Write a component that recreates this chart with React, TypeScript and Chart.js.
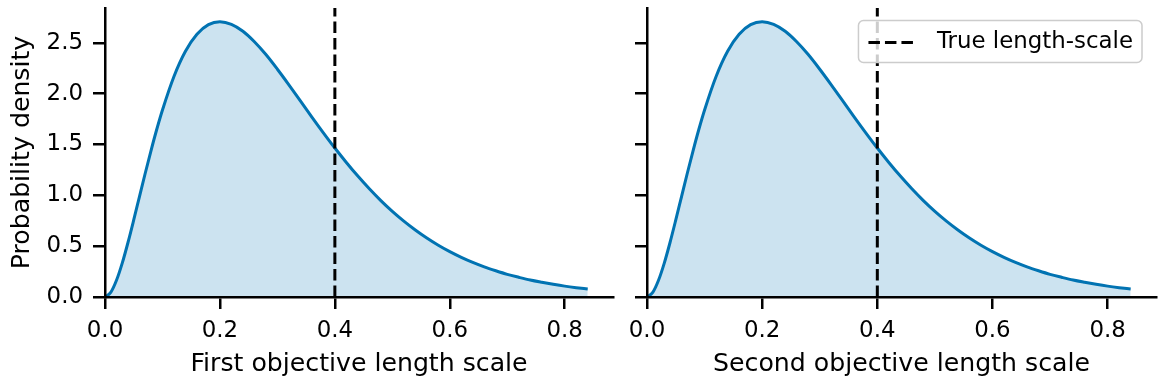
import React, { useEffect, useRef } from "react";
import { Chart, registerables } from "chart.js";

Chart.register(...registerables);

// ---- data ----
const lengthScales = [
  0, 0.01, 0.02, 0.03, 0.04, 0.05, 0.06, 0.07, 0.08, 0.09, 0.1, 0.12, 0.14, 0.16, 0.18,
  0.2, 0.22, 0.24, 0.26, 0.28, 0.3, 0.32, 0.34, 0.36, 0.38, 0.4, 0.42, 0.44, 0.46, 0.48,
  0.5, 0.52, 0.54, 0.56, 0.58, 0.6, 0.62, 0.64, 0.66, 0.68, 0.7, 0.72, 0.74, 0.76, 0.78,
  0.8, 0.82, 0.84,
];
const firstObjectiveDensity = [
  0, 0.045, 0.164, 0.333, 0.536, 0.758, 0.988, 1.217, 1.438, 1.647, 1.839, 2.169, 2.417,
  2.584, 2.678, 2.707, 2.681, 2.613, 2.51, 2.384, 2.24, 2.087, 1.929, 1.77, 1.615, 1.465,
  1.323, 1.189, 1.064, 0.948, 0.842, 0.746, 0.659, 0.58, 0.509, 0.446, 0.39, 0.34, 0.296,
  0.258, 0.223, 0.194, 0.167, 0.145, 0.125, 0.107, 0.092, 0.079,
];
const secondObjectiveDensity = [
  0, 0.045, 0.164, 0.333, 0.536, 0.758, 0.988, 1.217, 1.438, 1.647, 1.839, 2.169, 2.417,
  2.584, 2.678, 2.707, 2.681, 2.613, 2.51, 2.384, 2.24, 2.087, 1.929, 1.77, 1.615, 1.465,
  1.323, 1.189, 1.064, 0.948, 0.842, 0.746, 0.659, 0.58, 0.509, 0.446, 0.39, 0.34, 0.296,
  0.258, 0.223, 0.194, 0.167, 0.145, 0.125, 0.107, 0.092, 0.079,
];
const trueLengthScale = 0.4;
const xTickValues = [0, 0.2, 0.4, 0.6, 0.8];
const yTickValues = [0, 0.5, 1.0, 1.5, 2.0, 2.5];
const xAxisMax = 0.884;
const yAxisMax = 2.842;
const yAxisTitle = "Probability density";
const firstXAxisTitle = "First objective length scale";
const secondXAxisTitle = "Second objective length scale";
const trueLengthLabel = "True length-scale";
const densityLabel = "Prior density";

// ---- styles ----
const FONT = "'DejaVu Sans', sans-serif";
const TICK_SIZE = 22.9;
const TITLE_SIZE = 25.2;
const BLUE = "#0173b2";
const FILL = "rgba(1, 115, 178, 0.2)";
const DASH = [11.5, 5];
const LEGEND_DASH = [11.5, 5, 11.5, 5, 11.5, 40];
const INK = "#000000";
const LEGEND_PAD = 10;

type PanelConfig = {
  density: number[];
  xTitle: string;
  showYTickLabels: boolean;
  showYTitle: boolean;
  showLegend: boolean;
  yAxisWidth: number;
  rightPad: number;
};

const legendOnTop = {
  id: "legendOnTop",
  beforeLayout(chart: any) {
    const lg = chart.legend;
    if (!lg || lg._onTopPatched) return;
    lg._onTopPatched = true;
    lg._layers = () => [
      {
        z: 10,
        draw: () => {
          if (!lg.options || !lg.options.display) return;
          const hb = lg.legendHitBoxes && lg.legendHitBoxes[0];
          if (hb) {
            const ctx = chart.ctx;
            ctx.save();
            const x0 = hb.left - 10;
            const x1 = hb.left + hb.width + 9;
            const cy = hb.top + hb.height / 2 - 1;
            const y0 = cy - 21;
            const y1 = cy + 21;
            ctx.beginPath();
            if ((ctx as any).roundRect) (ctx as any).roundRect(x0, y0, x1 - x0, y1 - y0, 5);
            else ctx.rect(x0, y0, x1 - x0, y1 - y0);
            ctx.fillStyle = "rgba(255,255,255,0.8)";
            ctx.fill();
            ctx.lineWidth = 1.5;
            ctx.strokeStyle = "#cccccc";
            ctx.stroke();
            ctx.restore();
          }
          lg.draw();
        },
      },
    ];
  },
  afterLayout(chart: any) {
    const lg = chart.legend;
    if (!lg || !lg.options || !lg.options.display) return;
    const a = chart.chartArea;
    const hb = lg.legendHitBoxes && lg.legendHitBoxes[0];
    const itemWidth = hb ? hb.width : 268;
    lg.left = a.right - 23 - itemWidth - LEGEND_PAD;
    lg.right = a.right;
    lg.top = a.top + 23 - LEGEND_PAD;
    lg.bottom = a.bottom;
    lg.width = lg.right - lg.left;
    lg.height = lg.bottom - lg.top;
  },
};

function buildChart(canvas: HTMLCanvasElement, cfg: PanelConfig): Chart {
  const curvePoints = lengthScales.map((x, i) => ({ x, y: cfg.density[i] }));
  const truePoints = [
    { x: trueLengthScale, y: 0 },
    { x: trueLengthScale, y: yAxisMax },
  ];

  const gridOpts = {
    drawOnChartArea: false,
    drawTicks: true,
    tickLength: 12,
    tickWidth: 2.5,
    tickColor: INK,
    color: INK,
    lineWidth: 2.5,
  };
  const borderOpts = { display: true, color: INK, width: 2.5, z: 1 };

  return new Chart(canvas, {
    type: "line",
    data: {
      datasets: [
        {
          label: densityLabel,
          data: curvePoints,
          borderColor: BLUE,
          backgroundColor: FILL,
          borderWidth: 3,
          fill: "origin",
          pointRadius: 0,
          cubicInterpolationMode: "monotone",
          order: 1,
        },
        {
          label: trueLengthLabel,
          data: truePoints,
          borderColor: INK,
          backgroundColor: INK,
          borderWidth: 3,
          borderDash: DASH,
          fill: false,
          pointRadius: 0,
          order: 0,
        },
      ],
    },
    options: {
      responsive: false,
      animation: false,
      devicePixelRatio: 1,
      layout: { padding: { top: 8, right: cfg.rightPad, bottom: 0, left: 0 } },
      plugins: {
        tooltip: { enabled: false },
        legend: {
          display: cfg.showLegend,
          position: "chartArea",
          align: "start",
          labels: {
            usePointStyle: true,
            pointStyle: "line",
            pointStyleWidth: 57,
            boxHeight: TICK_SIZE,
            padding: LEGEND_PAD,
            color: INK,
            font: { family: FONT, size: TICK_SIZE },
            generateLabels: () => [
              {
                text: trueLengthLabel,
                fillStyle: "rgba(0,0,0,0)",
                strokeStyle: INK,
                lineWidth: 3,
                lineDash: LEGEND_DASH,
                lineCap: "butt",
                pointStyle: "line",
                hidden: false,
                datasetIndex: 1,
                fontColor: INK,
              },
            ],
          },
        },
      },
      scales: {
        x: {
          type: "linear",
          min: 0,
          max: xAxisMax,
          afterBuildTicks: (s: any) => {
            s.ticks = xTickValues.map((v) => ({ value: v }));
          },
          afterFit: (s: any) => {
            s.height = 91;
            s.paddingLeft = 0;
            s.paddingRight = 0;
          },
          ticks: {
            autoSkip: false,
            maxRotation: 0,
            padding: 8,
            color: INK,
            font: { family: FONT, size: TICK_SIZE },
            callback: (v: any) => Number(v).toFixed(1),
          },
          grid: gridOpts,
          border: borderOpts,
          title: {
            display: true,
            text: cfg.xTitle,
            color: INK,
            font: { family: FONT, size: TITLE_SIZE },
            padding: { top: 0, bottom: 8 },
          },
        },
        y: {
          type: "linear",
          min: 0,
          max: yAxisMax,
          afterBuildTicks: (s: any) => {
            s.ticks = yTickValues.map((v) => ({ value: v }));
          },
          afterFit: (s: any) => {
            s.width = cfg.yAxisWidth;
            s.paddingTop = 0;
            s.paddingBottom = 0;
          },
          ticks: {
            display: cfg.showYTickLabels,
            autoSkip: false,
            padding: 10,
            color: INK,
            font: { family: FONT, size: TICK_SIZE },
            callback: (v: any) => Number(v).toFixed(1),
          },
          grid: gridOpts,
          border: borderOpts,
          title: {
            display: cfg.showYTitle,
            text: yAxisTitle,
            color: INK,
            font: { family: FONT, size: TITLE_SIZE },
            padding: { top: 7, bottom: 0 },
          },
        },
      },
    } as any,
    plugins: [legendOnTop as any],
  });
}

export default function App() {
  const leftRef = useRef<HTMLCanvasElement>(null);
  const rightRef = useRef<HTMLCanvasElement>(null);

  useEffect(() => {
    const c1 = buildChart(leftRef.current as HTMLCanvasElement, {
      density: firstObjectiveDensity,
      xTitle: firstXAxisTitle,
      showYTickLabels: true,
      showYTitle: true,
      showLegend: false,
      yAxisWidth: 105,
      rightPad: 17,
    });
    const c2 = buildChart(rightRef.current as HTMLCanvasElement, {
      density: secondObjectiveDensity,
      xTitle: secondXAxisTitle,
      showYTickLabels: false,
      showYTitle: false,
      showLegend: true,
      yAxisWidth: 17,
      rightPad: 7,
    });
    return () => {
      c1.destroy();
      c2.destroy();
    };
  }, []);

  return (
    <div
      style={{
        position: "fixed",
        left: 0,
        top: 0,
        width: 1163,
        height: 388,
        background: "#ffffff",
      }}
    >
      <canvas
        ref={leftRef}
        width={630}
        height={388}
        style={{ position: "absolute", left: 0, top: 0, width: 630, height: 388 }}
      />
      <canvas
        ref={rightRef}
        width={533}
        height={388}
        style={{ position: "absolute", left: 630, top: 0, width: 533, height: 388 }}
      />
    </div>
  );
}
